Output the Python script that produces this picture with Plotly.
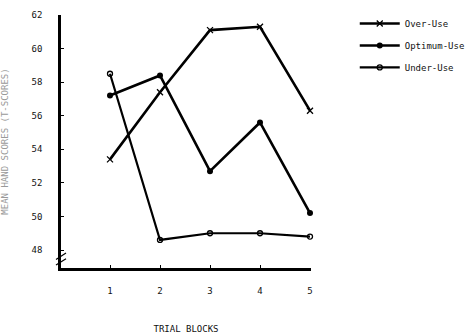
import plotly.graph_objects as go

trial_blocks = [1, 2, 3, 4, 5]
over_use = [53.4, 57.4, 61.1, 61.3, 56.3]
optimum_use = [57.2, 58.4, 52.7, 55.6, 50.2]
under_use = [58.5, 48.6, 49.0, 49.0, 48.8]
y_ticks = [48, 50, 52, 54, 56, 58, 60, 62]

FONT = "DejaVu Sans Mono"

fig = go.Figure()
fig.add_trace(go.Scatter(
    x=trial_blocks, y=over_use, name="Over-Use", mode="lines+markers",
    legendgroup="a", cliponaxis=False,
    line=dict(color="black", width=2.6),
    marker=dict(symbol="x-thin", size=6, line=dict(color="black", width=1.3), color="black"),
))
fig.add_trace(go.Scatter(
    x=trial_blocks, y=optimum_use, name="Optimum-Use", mode="lines+markers",
    legendgroup="b", cliponaxis=False,
    line=dict(color="black", width=2.6),
    marker=dict(symbol="circle", size=6, color="black"),
))
fig.add_trace(go.Scatter(
    x=trial_blocks, y=under_use, name="Under-Use", mode="lines+markers",
    legendgroup="c", cliponaxis=False,
    line=dict(color="black", width=2.2),
    marker=dict(symbol="circle-open", size=5, color="black", line=dict(width=1.3)),
))

# axis break mark on the y-axis
for dy in (0.0, 0.022):
    fig.add_shape(type="line", xref="paper", yref="paper",
                  x0=-0.02, x1=0.02, y0=0.012 + dy, y1=0.037 + dy,
                  line=dict(color="black", width=1.2))

fig.update_layout(
    width=469, height=334,
    margin=dict(l=61, r=158, t=15, b=66, autoexpand=False),
    paper_bgcolor="white", plot_bgcolor="white",
    font=dict(family=FONT, size=9, color="#111"),
    showlegend=True,
    legend=dict(x=1.175, y=1.024, xanchor="left", yanchor="top",
                font=dict(family=FONT, size=9, color="#111"),
                tracegroupgap=3,
                bgcolor="rgba(0,0,0,0)", itemwidth=40),
    xaxis=dict(range=[0.02, 5.02], tickvals=trial_blocks, ticktext=[str(v) for v in trial_blocks],
               automargin=False,
               showgrid=False, zeroline=False, showline=True, linecolor="black", linewidth=2.5,
               ticks="inside", ticklen=3, tickcolor="black", ticklabelstandoff=12,
               title=dict(text="TRIAL BLOCKS", font=dict(family=FONT, size=9), standoff=32)),
    yaxis=dict(range=[46.93, 62.0], tickvals=y_ticks, ticktext=[str(v) for v in y_ticks],
               automargin=False,
               showgrid=False, zeroline=False, showline=True, linecolor="black", linewidth=2.5,
               ticks="inside", ticklen=3, tickcolor="black", ticklabelstandoff=14,
               title=dict(text="MEAN HAND SCORES (T-SCORES)", font=dict(family=FONT, size=9, color="#999"), standoff=22)),
)

fig.write_html("out.html")
